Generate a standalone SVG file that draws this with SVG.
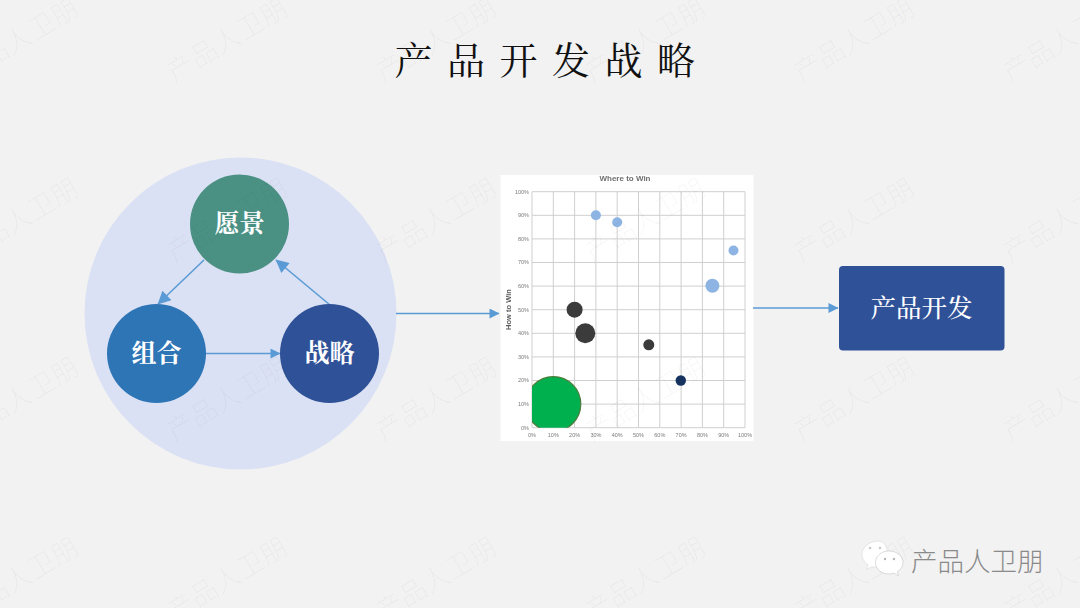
<svg xmlns="http://www.w3.org/2000/svg" width="1080" height="608" viewBox="0 0 1080 608">
<defs>
<marker id="ah" viewBox="0 0 10 10" refX="9.500" refY="5" markerUnits="userSpaceOnUse" markerWidth="13" markerHeight="10" orient="auto"><path d="M0 0L10 5L0 10Z" fill="#5b9bd5"/></marker>
<marker id="ahb" viewBox="0 0 10 10" refX="9.500" refY="5" markerUnits="userSpaceOnUse" markerWidth="16" markerHeight="13" orient="auto"><path d="M0 0L10 5L0 10Z" fill="#5b9bd5"/></marker>
<clipPath id="plot"><rect x="532" y="191.700" width="213" height="236"/></clipPath>
<filter id="soft" x="-5%" y="-5%" width="110%" height="110%"><feGaussianBlur stdDeviation="0.7"/></filter>
<g id="wm"><text class="wm" x="0" y="0" text-anchor="middle" transform="rotate(-31)">产品人卫朋</text></g>
</defs>
<style>
text{font-family:"Noto Sans CJK SC","Liberation Sans",sans-serif}
.lbl{fill:#fff;font-size:25px;font-weight:700;text-anchor:middle;font-family:"Noto Serif CJK SC","Noto Sans CJK SC",serif}
.wm{font-size:27px;font-weight:300;fill:#000;fill-opacity:.04}
.conn{fill:none;stroke:#5b9bd5;stroke-width:1.600}
.grid{stroke:#cfcfcf;stroke-width:1;fill:none}
.tick{font-size:5.500px;fill:#7a7a7a;font-family:"Liberation Sans",sans-serif}
.lb{fill:#8eb4e3}.dk{fill:#3a3a3a}
</style>
<rect width="1080" height="608" fill="#f2f2f2"/>
<text id="title" x="552" y="74" text-anchor="middle" font-size="38" font-weight="400" letter-spacing="14.500" fill="#111" style="font-family:'Noto Serif CJK SC','Noto Sans CJK SC',serif">产品开发战略</text>
<circle id="halo" cx="240.500" cy="313.500" r="156" fill="#dbe1f4"/>
<g id="chart" filter="url(#soft)">
<rect x="500.500" y="175" width="253" height="266" fill="#fff"/>
<path class="grid" d="M532 191.700V427.700M553.300 191.700V427.700M574.600 191.700V427.700M595.900 191.700V427.700M617.200 191.700V427.700M638.500 191.700V427.700M659.800 191.700V427.700M681.100 191.700V427.700M702.400 191.700V427.700M723.700 191.700V427.700M745 191.700V427.700M532 191.700H745M532 215.300H745M532 238.900H745M532 262.500H745M532 286.100H745M532 309.700H745M532 333.300H745M532 356.900H745M532 380.500H745M532 404.100H745M532 427.700H745"/>
<g clip-path="url(#plot)"><circle cx="553.300" cy="404.100" r="27.500" fill="#00b050" stroke="#4f7d3a" stroke-width="1.200"/></g>
<circle class="lb" cx="595.900" cy="215.300" r="5"/>
<circle class="lb" cx="617.200" cy="222.300" r="5"/>
<circle class="lb" cx="733.500" cy="250.500" r="5"/>
<circle class="lb" cx="712.400" cy="285.800" r="7"/>
<circle class="dk" cx="574.600" cy="309.700" r="8"/>
<circle class="dk" cx="585.300" cy="333.300" r="10"/>
<circle class="dk" cx="648.800" cy="344.800" r="5.500"/>
<circle cx="680.800" cy="380.500" r="5.200" fill="#12305e"/>
<text x="625" y="181" text-anchor="middle" font-size="8" font-weight="700" fill="#707070" style="font-family:'Liberation Sans',sans-serif">Where to Win</text>
<text x="0" y="0" transform="translate(510.500 309.500) rotate(-90)" text-anchor="middle" font-size="7.500" font-weight="700" fill="#5a5a5a" style="font-family:'Liberation Sans',sans-serif">How to Win</text>
<g text-anchor="end">
<text class="tick" x="529" y="193.500">100%</text><text class="tick" x="529" y="217">90%</text><text class="tick" x="529" y="240.700">80%</text><text class="tick" x="529" y="264.300">70%</text><text class="tick" x="529" y="287.900">60%</text><text class="tick" x="529" y="311.500">50%</text><text class="tick" x="529" y="335.100">40%</text><text class="tick" x="529" y="358.700">30%</text><text class="tick" x="529" y="382.300">20%</text><text class="tick" x="529" y="405.900">10%</text><text class="tick" x="529" y="429.500">0%</text>
</g>
<g text-anchor="middle">
<text class="tick" x="532" y="437">0%</text><text class="tick" x="553.300" y="437">10%</text><text class="tick" x="574.600" y="437">20%</text><text class="tick" x="595.900" y="437">30%</text><text class="tick" x="617.200" y="437">40%</text><text class="tick" x="638.500" y="437">50%</text><text class="tick" x="659.800" y="437">60%</text><text class="tick" x="681.100" y="437">70%</text><text class="tick" x="702.400" y="437">80%</text><text class="tick" x="723.700" y="437">90%</text><text class="tick" x="745" y="437">100%</text>
</g>
</g>
<g id="connectors">
<line class="conn" x1="204" y1="260" x2="158" y2="304" marker-end="url(#ahb)"/>
<line class="conn" x1="330" y1="305" x2="276" y2="260" marker-end="url(#ahb)"/>
<line class="conn" x1="206" y1="353.500" x2="280" y2="353.500" marker-end="url(#ah)"/>
<line class="conn" x1="396" y1="313.500" x2="499" y2="313.500" marker-end="url(#ah)"/>
<line class="conn" x1="753" y1="308" x2="838" y2="308" marker-end="url(#ah)"/>
</g>
<g id="vision"><circle cx="239.500" cy="224" r="49.500" fill="#4a9184"/><text class="lbl" x="239.500" y="232">愿景</text></g>
<g id="portfolio"><circle cx="156.500" cy="353.500" r="49.500" fill="#2e75b6"/><text class="lbl" x="156.500" y="361.500">组合</text></g>
<g id="strategy"><circle cx="329.500" cy="353.500" r="49.500" fill="#2f5197"/><text class="lbl" x="329.500" y="361.500">战略</text></g>
<g id="product"><rect x="839" y="266" width="165.500" height="84.500" rx="4" fill="#2f5197"/><text class="lbl" x="921.500" y="316.500" style="font-size:25.500px;font-weight:500">产品开发</text></g>
<g id="watermarks">
<use href="#wm" x="23" y="48"/><use href="#wm" x="232" y="48"/><use href="#wm" x="441" y="48"/><use href="#wm" x="650" y="48"/><use href="#wm" x="859" y="48"/><use href="#wm" x="1068" y="48"/>
<use href="#wm" x="23" y="228"/><use href="#wm" x="232" y="228"/><use href="#wm" x="441" y="228"/><use href="#wm" x="650" y="228"/><use href="#wm" x="859" y="228"/><use href="#wm" x="1068" y="228"/>
<use href="#wm" x="23" y="407"/><use href="#wm" x="232" y="407"/><use href="#wm" x="441" y="407"/><use href="#wm" x="650" y="407"/><use href="#wm" x="859" y="407"/><use href="#wm" x="1068" y="407"/>
<use href="#wm" x="23" y="587"/><use href="#wm" x="232" y="587"/><use href="#wm" x="441" y="587"/><use href="#wm" x="650" y="587"/><use href="#wm" x="859" y="587"/><use href="#wm" x="1068" y="587"/>
</g>
<g id="wechat">
<path d="M879 541c-9.500 0-17 6-17 13.500 0 4.300 2.300 7.800 6 10.300l-1.500 4.700 5.300-2.800c2 .5 4 .8 6.500.8l3-1 6-15c-1-6-4-10.500-8.300-10.500z" fill="#fff" stroke="#d6d6d6" stroke-width=".6"/>
<path d="M889 551c-8 0-13.500 5.300-13.500 11.500s5.500 11.500 13.500 11.500c1.800 0 3.500-.3 5-.8l4.500 2.600-1.200-4c3.500-2.300 5.700-5.500 5.700-9.300 0-6.200-6-11.500-14-11.500z" fill="#fff" stroke="#c4c4c4" stroke-width=".6"/>
<circle cx="870" cy="548" r="1.300" fill="#c8c8c8"/><circle cx="880" cy="548" r="1.300" fill="#c8c8c8"/><circle cx="885" cy="559" r="1.200" fill="#b5b5b5"/><circle cx="894" cy="559" r="1.200" fill="#b5b5b5"/>
<text x="911" y="571" font-size="26.500" font-weight="300" fill="#8a8a8a">产品人卫朋</text>
</g>
</svg>
